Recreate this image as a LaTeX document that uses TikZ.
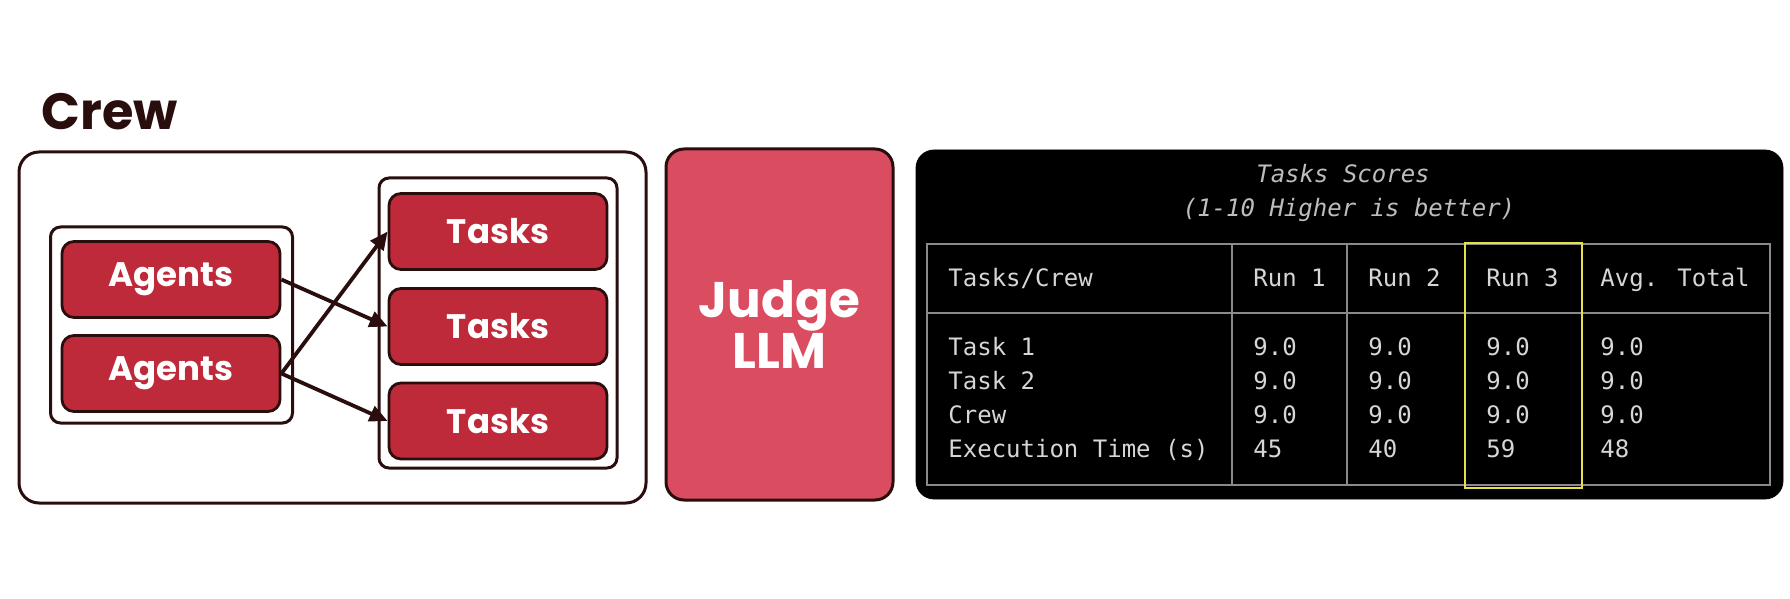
\documentclass[tikz,border=0pt]{standalone}
\usepackage{fontspec}
\setmainfont{Poppins}
\newfontfamily\monof{DejaVu Sans Mono}
\usetikzlibrary{arrows.meta}
\definecolor{crimson}{HTML}{BE2A3A}
\definecolor{judgered}{HTML}{DA4C60}
\definecolor{inkbrown}{HTML}{2A0E0E}
\definecolor{gridgray}{HTML}{8A8A8A}
\definecolor{celltext}{HTML}{D6D6D6}
\definecolor{titlegray}{HTML}{BDBDBD}
\definecolor{runyellow}{HTML}{E6E04A}

\begin{document}
\begin{tikzpicture}[x=0.5pt,y=-0.5pt,
  frame/.style={draw=inkbrown, line width=1.5pt, rounded corners=10pt, fill=white, inner sep=0pt},
  groupbox/.style={draw=inkbrown, line width=1.5pt, rounded corners=5pt, fill=white, inner sep=0pt},
  redbox/.style={draw=inkbrown, line width=1.4pt, fill=crimson, rounded corners=6pt,
    minimum width=109pt, minimum height=38pt, inner sep=0pt, text=white,
    font=\bfseries\fontsize{17}{20}\selectfont},
  flow/.style={draw=inkbrown, line width=1.9pt, -{Triangle[length=9pt,width=8pt]}},
  cell/.style={anchor=base west, inner sep=0pt, text=celltext, font=\monof\fontsize{12}{14}\selectfont},
  tabtitle/.style={anchor=base, inner sep=0pt, text=titlegray, font=\monof\itshape\fontsize{12}{14}\selectfont},
  gridline/.style={draw=gridgray, line width=1pt}]

\useasboundingbox[fill=white] (0,0) rectangle (1790,599);

% ---- Crew panel ----
\node[anchor=base west, inner sep=0pt, text=inkbrown,
      font=\bfseries\fontsize{25.5}{29}\selectfont] (crewtitle) at (41,130) {Crew};

\node[frame, minimum width=313.5pt, minimum height=175.5pt] (crew) at (332.5,327.5) {};

\node[groupbox, minimum width=121pt, minimum height=98pt] (agentgroup) at (171.5,325) {};
\node[redbox] (a1) at (171,279.5) {Agents};
\node[redbox] (a2) at (171,373.5) {Agents};

\node[groupbox, minimum width=119pt, minimum height=145pt] (taskgroup) at (498,323) {};
\node[redbox] (t1) at (498,231.5) {Tasks};
\node[redbox] (t2) at (498,326.5) {Tasks};
\node[redbox] (t3) at (498,421) {Tasks};

\draw[flow] (a1.east) -- (t2.west);
\draw[flow] (a2.east) -- (t1.west);
\draw[flow] (a2.east) -- (t3.west);

% ---- Judge panel ----
\node[draw=inkbrown, line width=1.5pt, fill=judgered, rounded corners=9pt,
      minimum width=113.5pt, minimum height=175.5pt, inner sep=0pt,
      text=white, align=center, font=\bfseries\fontsize{25}{23}\selectfont]
      (judge) at (779.5,324.5) {Judge\\LLM};

% ---- Score table panel ----
\node[draw=black, fill=black, rounded corners=9pt, minimum width=433.5pt,
      minimum height=174.5pt, inner sep=0pt] (scores) at (1349.5,324.5) {};

\node[tabtitle] (title1) at (1343,183) {Tasks Scores};
\node[tabtitle] (title2) at (1349,217) {(1-10 Higher is better)};

\node[draw=gridgray, line width=1pt, minimum width=421.5pt, minimum height=120.5pt,
      inner sep=0pt] (grid) at (1348.5,364.5) {};
\draw[gridline] (927,313) -- (1770,313);
\foreach \xx in {1232,1347,1465,1582}
  \draw[gridline] (\xx,244) -- (\xx,485);

% header row
\node[cell] (h0) at (948,286) {Tasks/Crew};
\node[cell] (h1) at (1253,286) {Run 1};
\node[cell] (h2) at (1368,286) {Run 2};
\node[cell] (h3) at (1486,286) {Run 3};
\node[cell] (h4) at (1600,286) {Avg. Total};

% body rows
\foreach \lab/\va/\vb/\vc/\vd [count=\i] in
  {{Task 1}/9.0/9.0/9.0/9.0,
   {Task 2}/9.0/9.0/9.0/9.0,
   {Crew}/9.0/9.0/9.0/9.0,
   {Execution Time (s)}/45/40/59/48}{
  \pgfmathsetmacro{\yy}{355+34*(\i-1)}
  \node[cell] (r\i c0) at (948,\yy) {\lab};
  \node[cell] (r\i c1) at (1253,\yy) {\va};
  \node[cell] (r\i c2) at (1368,\yy) {\vb};
  \node[cell] (r\i c3) at (1486,\yy) {\vc};
  \node[cell] (r\i c4) at (1600,\yy) {\vd};
}

% highlighted run column
\node[draw=runyellow, line width=1.4pt, minimum width=58.5pt, minimum height=122.5pt,
      inner sep=0pt] (run3mark) at (1523.5,365.5) {};

\end{tikzpicture}
\end{document}
